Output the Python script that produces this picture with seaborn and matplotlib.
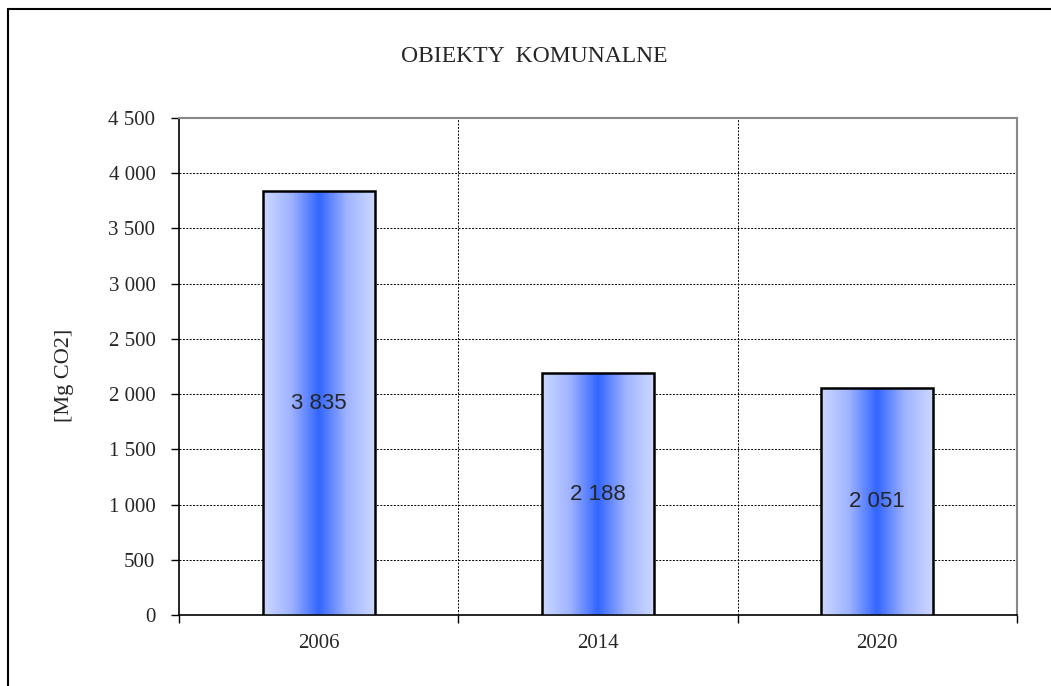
import numpy as np
import pandas as pd
import matplotlib
matplotlib.use("Agg")
import matplotlib.pyplot as plt
from matplotlib.colors import LinearSegmentedColormap
from matplotlib.lines import Line2D
import seaborn as sns

years = ["2006", "2014", "2020"]
values = [3835, 2188, 2051]
labels = ["3 835", "2 188", "2 051"]
yticks = [0, 500, 1000, 1500, 2000, 2500, 3000, 3500, 4000, 4500]
ytick_labels = ["0", "500", "1 000", "1 500", "2 000", "2 500", "3 000", "3 500", "4 000", "4 500"]
title = "OBIEKTY  KOMUNALNE"
ylabel = "[Mg CO2]"

sns.set_theme(style="white")
plt.rcParams["font.family"] = ["Liberation Serif", "DejaVu Serif"]

fig = plt.figure(figsize=(10.51, 6.86), dpi=100)
ax = fig.add_axes([179/1051, 1-615/686, (1017-179)/1051, (615-118)/686])

df = pd.DataFrame({"year": years, "value": values})
sns.barplot(data=df, x="year", y="value", ax=ax, width=0.4, color="#3366ff",
            edgecolor="black", linewidth=1.8, zorder=3)

cmap = LinearSegmentedColormap.from_list("g", ["#cdd8ff", "#9fb3ff", "#3366ff", "#9fb3ff", "#cdd8ff"])
grad = np.linspace(0, 1, 256).reshape(1, -1)
for p in ax.patches:
    x0, y0 = p.get_x(), p.get_y()
    w, h = p.get_width(), p.get_height()
    im = ax.imshow(grad, cmap=cmap, aspect="auto", extent=[x0, x0 + w, y0, y0 + h],
                   zorder=3.5, interpolation="bicubic")
    im.set_clip_path(p)
    p.set_facecolor("none")
    p.set_zorder(4)

for i, (v, lab) in enumerate(zip(values, labels)):
    ax.text(i, v / 2, lab, ha="center", va="center", fontsize=16,
            family=["Liberation Sans", "DejaVu Sans"], zorder=5)

ax.set_xlim(-0.5, 2.5)
ax.set_ylim(0, 4500)
ax.set_yticks(yticks)
ax.set_yticklabels(ytick_labels, fontsize=15)
ax.set_xticks(range(len(years)))
ax.set_xticklabels(years, fontsize=15)
ax.set_xticks([-0.5, 0.5, 1.5, 2.5], minor=True)
ax.tick_params(axis="x", which="major", length=0, pad=14)
ax.tick_params(axis="x", which="minor", length=6, width=1, color="black", direction="out", bottom=True)
ax.tick_params(axis="y", length=6, width=1, color="black", direction="out", left=True, pad=11)

ax.grid(False)
for yv in yticks[1:]:
    ax.axhline(yv, color="black", linestyle=(0, (2, 1.5)), linewidth=0.7, zorder=1)
for xv in [0.5, 1.5]:
    ax.axvline(xv, color="black", linestyle=(0, (2, 1.5)), linewidth=0.7, zorder=1)

ax.set_xlabel("")
ax.set_ylabel(ylabel, fontsize=16)
ax.yaxis.set_label_coords((74 - 179) / 838, (615 - 375) / 497)
for side in ["left", "bottom"]:
    ax.spines[side].set_color("black")
    ax.spines[side].set_linewidth(1.2)
for side in ["top", "right"]:
    ax.spines[side].set_color("#888888")
    ax.spines[side].set_linewidth(1.5)

fig.text(534/1051, 1-57/686, title, ha="center", va="center", fontsize=17)

fig.add_artist(Line2D([8/1051, 1.0], [1-9/686, 1-9/686], transform=fig.transFigure, color="black", linewidth=1.5))
fig.add_artist(Line2D([8/1051, 8/1051], [0, 1-9/686], transform=fig.transFigure, color="black", linewidth=1.5))

fig.savefig("out.png", dpi=100)
